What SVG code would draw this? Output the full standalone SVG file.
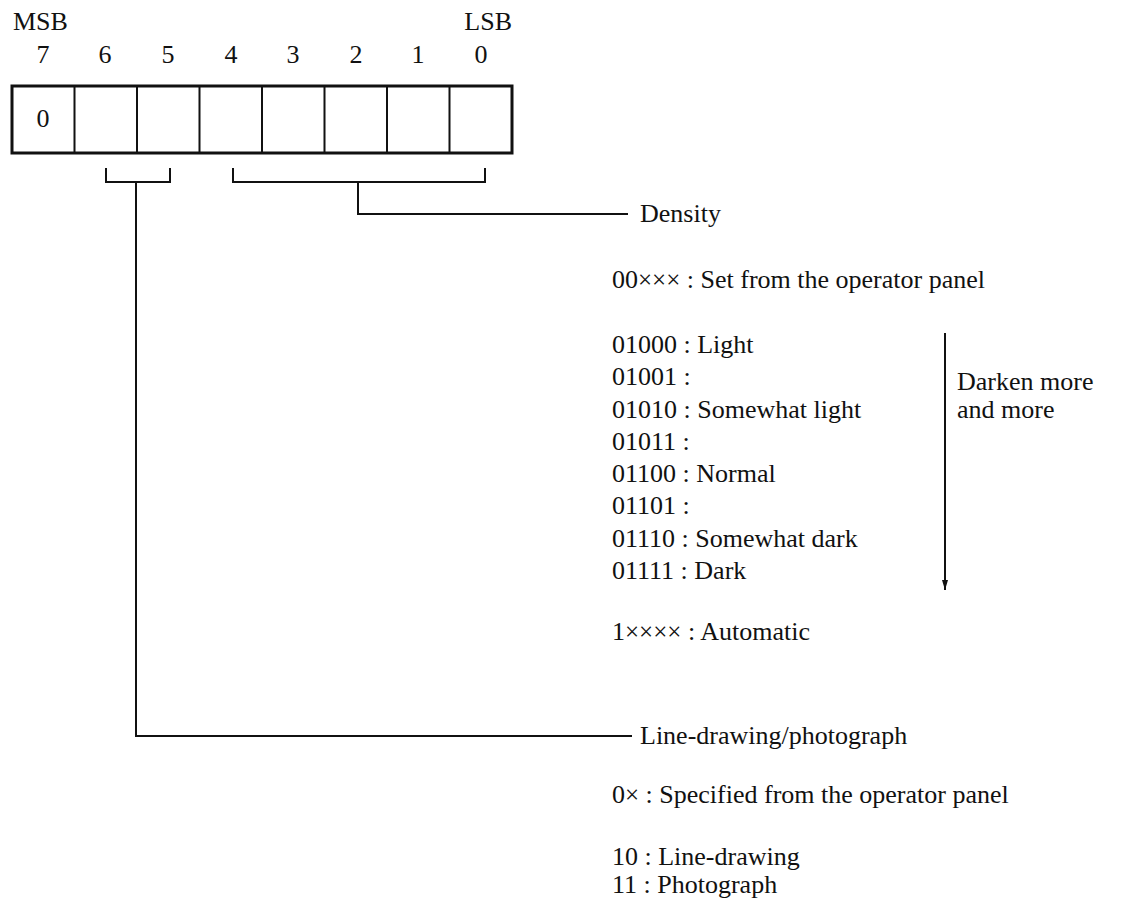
<svg xmlns="http://www.w3.org/2000/svg" width="1125" height="912" viewBox="0 0 1125 912">
<style>
text{font-family:"Liberation Serif","Times New Roman",serif;font-size:26px;fill:#111}
.c{text-anchor:middle}
.x{font-size:25px}
.ln{fill:none;stroke:#111;stroke-width:2}
.box{fill:#fff;stroke:#111;stroke-width:3}
</style>
<defs>
<marker id="ah" viewBox="0 0 10 6" refX="10" refY="3" markerWidth="10" markerHeight="6" markerUnits="userSpaceOnUse" orient="auto">
<path d="M0,0 L10,3 L0,6 Z" fill="#111"/>
</marker>
</defs>
<rect width="1125" height="912" fill="#fff"/>
<g id="register">
<text x="13" y="30">MSB</text>
<text x="512" y="30" text-anchor="end">LSB</text>
<text class="c" x="43" y="63">7</text>
<text class="c" x="105" y="63">6</text>
<text class="c" x="168" y="63">5</text>
<text class="c" x="231" y="63">4</text>
<text class="c" x="293" y="63">3</text>
<text class="c" x="356" y="63">2</text>
<text class="c" x="418" y="63">1</text>
<text class="c" x="481" y="63">0</text>
<rect class="box" x="12" y="86" width="500" height="67"/>
<path class="ln" d="M74.5,86V153M137,86V153M199.5,86V153M262,86V153M324.5,86V153M387,86V153M449.5,86V153"/>
<text class="c" x="43" y="127">0</text>
</g>
<g id="connectors">
<path class="ln" d="M106,168V182H170V168"/>
<path class="ln" d="M233,168V182H485V168"/>
<path class="ln" d="M358,182V214H628"/>
<path class="ln" d="M136,182V736H632"/>
<path class="ln" d="M945,333V590" marker-end="url(#ah)"/>
</g>
<g id="density">
<text x="640" y="222">Density</text>
<text x="612" y="288">00<tspan class="x">×××</tspan> : Set from the operator panel</text>
<text x="612" y="353">01000 : Light</text>
<text x="612" y="385">01001 :</text>
<text x="612" y="418">01010 : Somewhat light</text>
<text x="612" y="450">01011 :</text>
<text x="612" y="482">01100 : Normal</text>
<text x="612" y="514">01101 :</text>
<text x="612" y="547">01110 : Somewhat dark</text>
<text x="612" y="579">01111 : Dark</text>
<text x="957" y="390">Darken more</text>
<text x="957" y="418">and more</text>
<text x="612" y="640">1<tspan class="x">××××</tspan> : Automatic</text>
</g>
<g id="linedrawing">
<text x="640" y="744">Line-drawing/photograph</text>
<text x="612" y="803">0<tspan class="x">×</tspan> : Specified from the operator panel</text>
<text x="612" y="865">10 : Line-drawing</text>
<text x="612" y="893">11 : Photograph</text>
</g>
</svg>
